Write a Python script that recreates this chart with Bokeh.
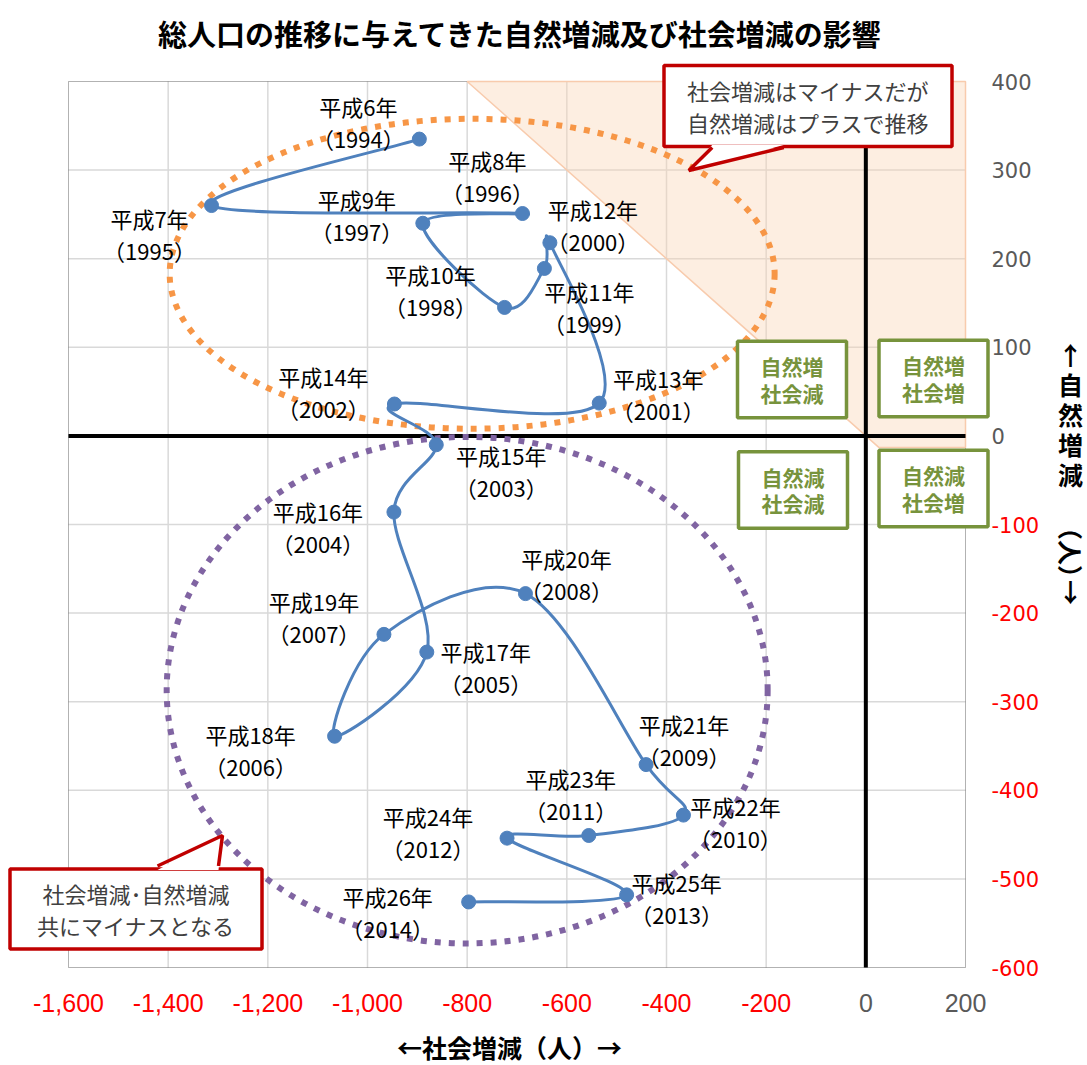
import numpy as np
from bokeh.plotting import figure
from bokeh.models import (ColumnDataSource, Range1d, FixedTicker, NumeralTickFormatter, Label,
                          LinearAxis, BoxAnnotation)
from bokeh.embed import file_html
from bokeh.resources import INLINE
from bokeh.core.properties import value

# ---------------- data ----------------
years = [1994, 1995, 1996, 1997, 1998, 1999, 2000, 2001, 2002, 2003, 2004,
         2005, 2006, 2007, 2008, 2009, 2010, 2011, 2012, 2013, 2014]
heisei = ["平成6年", "平成7年", "平成8年", "平成9年", "平成10年", "平成11年", "平成12年",
          "平成13年", "平成14年", "平成15年", "平成16年", "平成17年", "平成18年", "平成19年",
          "平成20年", "平成21年", "平成22年", "平成23年", "平成24年", "平成25年", "平成26年"]
social = [-896, -1313, -689, -889, -725, -645, -634, -535, -946, -862, -947,
          -881, -1066, -967, -683, -441, -366, -556, -720, -480, -797]
natural = [335, 260, 251, 240, 145, 189, 218, 37, 36, -10, -86,
           -244, -339, -224, -178, -371, -428, -451, -454, -518, -526]

x_ticks = [-1600, -1400, -1200, -1000, -800, -600, -400, -200, 0, 200]
y_ticks = [-600, -500, -400, -300, -200, -100, 0, 100, 200, 300, 400]

title_text = "総人口の推移に与えてきた自然増減及び社会増減の影響"
x_title = "←社会増減（人）→"

# ---------------- layout constants (pixels) ----------------
W, H = 1087, 1065
PX_L, PX_R, PX_T, PX_B = 68, 965, 81, 967
X_MIN, X_MAX = x_ticks[0], x_ticks[-1]
Y_MIN, Y_MAX = y_ticks[0], y_ticks[-1]
sx = (X_MAX - X_MIN) / (PX_R - PX_L)
sy = (Y_MAX - Y_MIN) / (PX_B - PX_T)
x_start, x_end = X_MIN - PX_L * sx, X_MAX + (W - PX_R) * sx
y_start, y_end = Y_MIN - (H - PX_B) * sy, Y_MAX + PX_T * sy

# label offsets in screen pixels (layout, not data)
label_dx = [-61, -62, -35, -66, -74, 45, 43, 59, -71, 65, -76,
            59, -84, -70, 41, 38, 52, -18, -79, 50, -81]
label_dy = [-17, 28, -38, -8, -17, 39, -18, -9, -12, 26, 15,
            15, 14, -17, -20, -25, 7, -41, -6, 3, 10]
labels = [f"{h}\n（{y}）" for h, y in zip(heisei, years)]

# ---------------- figure ----------------
p = figure(width=W, height=H, x_range=Range1d(x_start, x_end), y_range=Range1d(y_start, y_end),
           x_axis_location=None, y_axis_location=None, title_location=None,
           output_backend="svg", toolbar_location=None, min_border=0)
p.background_fill_color = "white"
p.border_fill_color = "white"
p.outline_line_color = None
for g in p.grid:
    g.visible = False

XFONT = "'Liberation Sans', Arial, sans-serif"
def make_xaxis(ticks, color):
    ax = LinearAxis(ticker=FixedTicker(ticks=ticks), formatter=NumeralTickFormatter(format="0,0"),
                    fixed_location=Y_MIN, axis_line_color=None, major_tick_line_color=None,
                    minor_tick_line_color=None, major_tick_out=0, major_tick_in=0,
                    major_label_standoff=26, major_label_text_color=color,
                    major_label_text_font=XFONT, major_label_text_font_size="25px")
    p.add_layout(ax, "below")

def make_yaxis(ticks, color):
    ax = LinearAxis(ticker=FixedTicker(ticks=ticks), formatter=NumeralTickFormatter(format="0"),
                    fixed_location=X_MAX, axis_line_color=None, major_tick_line_color=None,
                    minor_tick_line_color=None, major_tick_out=0, major_tick_in=0,
                    major_label_standoff=26, major_label_text_color=color,
                    major_label_text_font="DejaVu Sans", major_label_text_font_size="21px")
    p.add_layout(ax, "right")

make_xaxis([t for t in x_ticks if t < 0], "#FF0000")
make_xaxis([t for t in x_ticks if t >= 0], "#595959")
make_yaxis([t for t in y_ticks if t < 0], "#FF0000")
make_yaxis([t for t in y_ticks if t >= 0], "#595959")

# plot-area border and grid lines (bounded to the axis ranges)
p.add_layout(BoxAnnotation(left=X_MIN, right=X_MAX, bottom=Y_MIN, top=Y_MAX, fill_alpha=0,
                           line_color="#000000", line_width=1, level="underlay"))
gx = x_ticks[1:-1]
gy = y_ticks[1:-1]
g1 = p.segment(x0=gx, y0=[Y_MIN] * len(gx), x1=gx, y1=[Y_MAX] * len(gx),
               line_color="#D9D9D9", line_width=1.5)
g2 = p.segment(x0=[X_MIN] * len(gy), y0=gy, x1=[X_MAX] * len(gy), y1=gy,
               line_color="#D9D9D9", line_width=1.5)
g1.level = "underlay"
g2.level = "underlay"

# shaded region (natural increase exceeds social decrease)
p.patch(x=[-800, 200, 200, 26], y=[400, 400, -13, -13], fill_color="#FBD5B5", fill_alpha=0.4,
        line_color="#F8CBAD", line_width=1.5)

# zero lines
p.segment(x0=[0, X_MIN], y0=[Y_MIN, 0], x1=[0, X_MAX], y1=[Y_MAX, 0],
          line_color="black", line_width=4)

# dotted ellipses
p.ellipse(x=[-790], y=[183], width=[1214], height=[350], fill_color=None,
          line_color="#F79646", line_width=6, line_dash="6 8")
p.ellipse(x=[-800], y=[-287], width=[1206], height=[572], fill_color=None,
          line_color="#8064A2", line_width=6, line_dash="6 8")

# smoothed line (Catmull-Rom -> cubic Bezier through the data points)
xs = np.array(social, dtype=float)
ys = np.array(natural, dtype=float)
xp = np.concatenate([[xs[0]], xs, [xs[-1]]])
yp = np.concatenate([[ys[0]], ys, [ys[-1]]])
i = np.arange(len(xs) - 1)
cx0 = xp[i + 1] + (xp[i + 2] - xp[i]) / 6.0
cy0 = yp[i + 1] + (yp[i + 2] - yp[i]) / 6.0
cx1 = xp[i + 2] - (xp[i + 3] - xp[i + 1]) / 6.0
cy1 = yp[i + 2] - (yp[i + 3] - yp[i + 1]) / 6.0
p.bezier(x0=xs[:-1], y0=ys[:-1], x1=xs[1:], y1=ys[1:], cx0=cx0, cy0=cy0, cx1=cx1, cy1=cy1,
         line_color="#4F81BD", line_width=3)

src = ColumnDataSource(dict(x=social, y=natural, text=labels, dx=label_dx, dy=label_dy))
p.scatter(x="x", y="y", source=src, size=14, fill_color="#4F81BD", line_color="#4F81BD")
p.text(x="x", y="y", text="text", x_offset="dx", y_offset="dy", source=src,
       text_align="center", text_baseline="middle", text_font=value("Noto Sans CJK JP"),
       text_font_size="22px", text_line_height=1.0, text_color="#000000")

# quadrant boxes
green = "#77933C"
for txt, bx, by in [("自然増\n社会減", 791.5, 686), ("自然増\n社会増", 933, 687),
                    ("自然減\n社会減", 792.5, 575.5), ("自然減\n社会増", 933, 577)]:
    p.add_layout(Label(x=bx, y=by, x_units="screen", y_units="screen", text=txt,
                       text_align="center", text_baseline="middle", text_color=green,
                       text_font="Noto Sans CJK JP", text_font_style="bold",
                       text_font_size="21px", text_line_height=0.89,
                       border_line_color=green, border_line_width=3.5,
                       background_fill_color="white", padding=(23, 10)))

# callouts
red = "#C00000"
p.add_layout(Label(x=807.5, y=959.5, x_units="screen", y_units="screen",
                   text="社会増減はマイナスだが\n自然増減はプラスで推移",
                   text_align="center", text_baseline="middle", text_color="#404040",
                   text_font="Noto Sans CJK JP", text_font_size="22px", text_line_height=0.97,
                   border_line_color=red, border_line_width=3.5,
                   background_fill_color="white", padding=(23, 9)))
p.add_layout(Label(x=135.5, y=156.5, x_units="screen", y_units="screen",
                   text="社会増減･自然増減\n共にマイナスとなる",
                   text_align="center", text_baseline="middle", text_color="#404040",
                   text_font="Noto Sans CJK JP", text_font_size="22px", text_line_height=1.0,
                   border_line_color=red, border_line_width=3.5,
                   background_fill_color="white", padding=(27, 8)))

# callout tails (drawn over the boxes)
tail1 = p.patch(x=[-308.3, -355.2, -164.6], y=[328.4, 299.5, 328.4], fill_color="white", line_color=None)
tail1.level = "overlay"
tl1 = p.multi_line(xs=[[-308.3, -355.2, -164.6]], ys=[[325.5, 299.5, 325.5]], line_color=red, line_width=3.5)
tl1.level = "overlay"
tail2 = p.patch(x=[-1421.4, -1291.0, -1299.0], y=[-490.0, -451.0, -490.0], fill_color="white", line_color=None)
tail2.level = "overlay"
tl2 = p.multi_line(xs=[[-1421.4, -1291.0, -1299.0]], ys=[[-485.4, -451.0, -485.4]], line_color=red, line_width=3.5)
tl2.level = "overlay"

# titles
p.add_layout(Label(x=520, y=1033, x_units="screen", y_units="screen", text=title_text,
                   text_align="center", text_baseline="middle", text_color="#000000",
                   text_font="Noto Sans CJK JP", text_font_style="bold", text_font_size="29px"))
p.add_layout(Label(x=509, y=19, x_units="screen", y_units="screen", text=x_title,
                   text_align="center", text_baseline="middle", text_color="#000000",
                   text_font="Noto Sans CJK JP", text_font_style="bold", text_font_size="25px"))
YT_X = 1070
p.add_layout(Label(x=YT_X, y=651.5, x_units="screen", y_units="screen", text="↑\n自\n然\n増\n減",
                   text_align="center", text_baseline="middle", text_color="#000000",
                   text_font="Noto Sans CJK JP", text_font_style="bold", text_font_size="25px",
                   text_line_height=0.83))
p.add_layout(Label(x=YT_X, y=513, x_units="screen", y_units="screen", text="（人）",
                   angle=-90, angle_units="deg",
                   text_align="center", text_baseline="middle", text_color="#000000",
                   text_font="Noto Sans CJK JP", text_font_style="bold", text_font_size="25px"))
p.add_layout(Label(x=YT_X, y=475, x_units="screen", y_units="screen", text="↓",
                   text_align="center", text_baseline="middle", text_color="#000000",
                   text_font="Noto Sans CJK JP", text_font_style="bold", text_font_size="25px"))

open("out.html", "w").write(file_html(p, INLINE))
